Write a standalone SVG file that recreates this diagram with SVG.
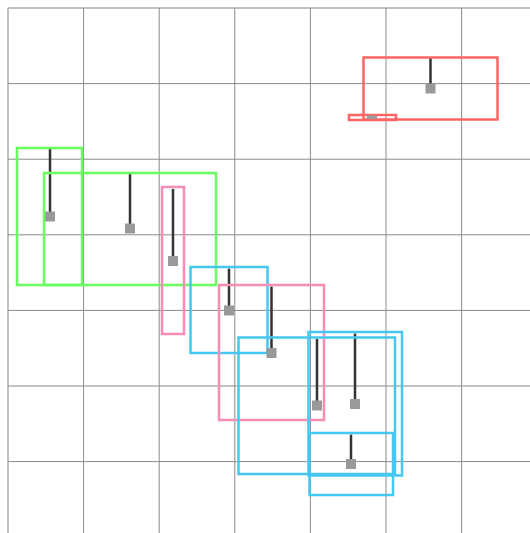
<svg xmlns="http://www.w3.org/2000/svg" width="530" height="533" viewBox="0 0 530 533">
<style>
.grid{stroke:#8a8a8a;stroke-width:1;fill:none}
.gridb{stroke:#aaa;stroke-width:1.5;fill:none}
.box{fill:none;stroke-width:2.5}
.red{stroke:#ff6464}
.green{stroke:#66ff5e}
.pink{stroke:#f78db6}
.blue{stroke:#44c8f2}
.stem{stroke:#333;stroke-width:2.5}
.sq{fill:#999}
</style>
<rect width="530" height="533" fill="#fff"/>
<g id="grid">
<path class="gridb" d="M8,8H530M8,8V533"/>
<path class="grid" d="M83.6,8V533M159.2,8V533M234.8,8V533M310.4,8V533M386,8V533M461.6,8V533M8,83.6H530M8,159.2H530M8,234.8H530M8,310.4H530M8,386H530M8,461.6H530"/>
</g>
<g id="connectors">
<line class="stem" x1="430.5" y1="58" x2="430.5" y2="88"/>
<line class="stem" x1="50" y1="149" x2="50" y2="216"/>
<line class="stem" x1="130" y1="174" x2="130" y2="228"/>
<line class="stem" x1="173" y1="189" x2="173" y2="261"/>
<line class="stem" x1="229" y1="268.5" x2="229" y2="310"/>
<line class="stem" x1="271.5" y1="286.5" x2="271.5" y2="353"/>
<line class="stem" x1="317" y1="339" x2="317" y2="405"/>
<line class="stem" x1="355" y1="333.5" x2="355" y2="404"/>
<line class="stem" x1="351" y1="434.5" x2="351" y2="464"/>
</g>
<g id="red1"><rect class="box red" x="363.5" y="57.5" width="134" height="62"/><rect class="sq" x="425.5" y="83.5" width="10" height="10"/></g>
<g id="red2"><rect class="box red" x="349" y="115" width="47" height="5"/><rect class="sq" x="367" y="115.5" width="10" height="3.5"/></g>
<g id="green1"><rect class="box green" x="17" y="148" width="65" height="137"/><rect class="sq" x="45" y="211.5" width="10" height="10"/></g>
<g id="green2"><rect class="box green" x="44" y="173" width="172" height="112"/><rect class="sq" x="125" y="223.5" width="10" height="10"/></g>
<g id="pink1"><rect class="box pink" x="162" y="187" width="22" height="147"/><rect class="sq" x="168" y="256" width="10" height="10"/></g>
<g id="blue1"><rect class="box blue" x="190.5" y="267" width="77" height="86"/><rect class="sq" x="224" y="305.5" width="10" height="10"/></g>
<g id="pink2"><rect class="box pink" x="219" y="285" width="105" height="135"/><rect class="sq" x="266.5" y="348" width="10" height="10"/></g>
<g id="blue2"><rect class="box blue" x="238.5" y="337.5" width="156.5" height="136.5"/><rect class="sq" x="312" y="400.5" width="10" height="10"/></g>
<g id="blue3"><rect class="box blue" x="308.5" y="332" width="93.5" height="143.5"/><rect class="sq" x="350" y="399" width="10" height="10"/></g>
<g id="blue4"><rect class="box blue" x="309.5" y="433" width="83.5" height="62"/><rect class="sq" x="346" y="459" width="10" height="10"/></g>
</svg>
